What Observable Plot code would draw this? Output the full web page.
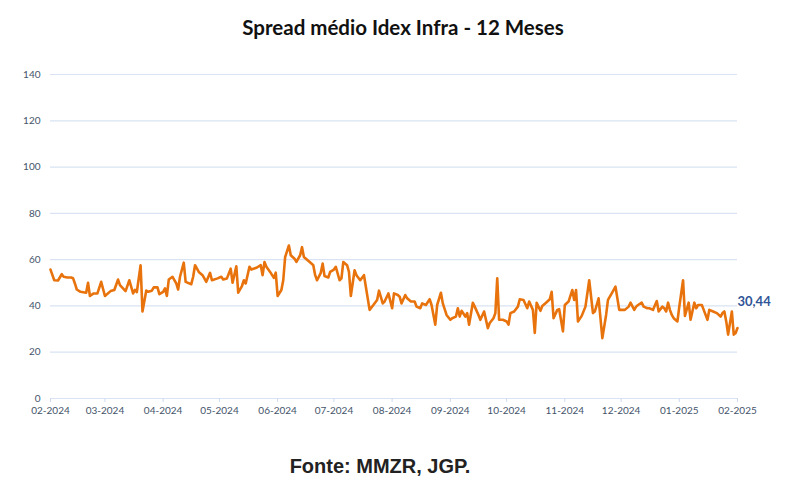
<!DOCTYPE html>
<html>
<head>
<meta charset="utf-8">
<script src="https://cdn.jsdelivr.net/npm/d3@7"></script>
<script src="https://cdn.jsdelivr.net/npm/@observablehq/plot@0.6"></script>
<style>
  html, body { margin: 0; padding: 0; background: #fff; }
  body { width: 788px; height: 495px; position: relative; overflow: hidden; }
  #title { position: absolute; left: 0; top: 0; width: 788px; height: 54px; display: flex; align-items: center; justify-content: center;
           font-family: Lato, "Open Sans", sans-serif; font-weight: bold; font-size: 20.5px; color: #111; padding-left: 18px; box-sizing: border-box; }
  #chart { position: absolute; left: 0; top: 54px; }
  #caption { position: absolute; left: 0; top: 448px; width: 788px; text-align: center; padding-right: 28px; box-sizing: border-box;
             font-family: "Liberation Sans", Arial, sans-serif; font-weight: bold; font-size: 20px; color: #222; line-height: 36px; }
</style>
</head>
<body>
<div id="title">Spread médio Idex Infra - 12 Meses</div>
<div id="chart"></div>
<div id="caption">Fonte: MMZR, JGP.</div>
<script>
// Days since 2024-02-01 (x positions)
const days = [
  0,2,4,6,7,9,11,12,13,14,16,19,20,21,23,25,27,
  29,32,34,36,37,40,42,44,45,46,48,49,51,52,54,55,57,58,
  60,61,62,63,65,67,68,69,71,72,75,76,77,79,81,83,85,86,
  89,91,92,94,96,97,99,100,102,103,104,106,107,110,112,113,114,115,117,119,
  120,121,123,124,125,127,128,130,131,133,134,135,137,139,140,141,142,144,145,146,148,149,
  151,152,154,155,156,158,159,160,162,163,165,167,168,170,172,174,175,177,178,180,
  182,183,185,186,187,189,190,192,194,195,197,198,200,202,203,205,206,208,209,211,
  213,214,216,217,218,219,221,222,223,225,226,228,229,231,233,234,236,237,238,239,241,
  243,244,245,247,249,250,252,254,255,257,258,259,261,262,264,266,267,268,270,271,
  273,274,276,278,279,280,281,283,285,287,289,290,292,294,296,297,299,301,303,
  305,306,308,309,311,312,313,315,316,318,319,321,323,324,326,327,328,329,330,331,332,334,
  335,337,338,340,341,343,344,345,347,348,350,351,353,355,357,358,359,360,361,363,364,365,366
];
// Spread values (bps)
const spread = [
  55.7,51.1,51.0,53.7,52.6,52.3,52.3,52.0,49.7,47.1,46.1,45.7,50.0,44.3,45.4,45.4,50.4,
  44.3,46.4,46.9,51.4,49.0,46.4,51.1,45.4,46.9,46.0,57.6,37.6,46.6,46.1,46.6,48.0,48.0,45.1,
  46.1,47.6,44.3,51.4,52.6,49.7,47.1,52.6,58.7,50.4,49.4,52.6,57.6,54.7,53.3,50.4,54.3,51.1,
  51.9,52.6,51.4,51.9,56.1,50.0,57.1,45.7,48.6,51.1,49.7,56.9,55.7,56.6,57.6,53.3,59.0,56.9,54.7,52.1,
  54.4,44.3,46.9,51.1,61.1,66.1,61.9,60.4,59.0,61.9,65.4,61.1,59.7,58.3,57.6,53.3,51.1,54.3,58.3,52.9,52.3,54.7,
  55.7,56.9,51.1,51.9,59.0,57.6,54.7,44.3,55.4,53.3,51.1,53.3,48.3,38.3,40.4,42.6,46.6,41.1,41.9,45.4,
  39.0,45.4,44.7,44.0,41.1,44.7,43.3,41.9,41.9,39.7,39.0,41.1,40.4,42.9,40.4,31.9,40.4,45.7,41.1,36.1,
  34.0,34.7,35.4,39.0,35.4,37.9,35.4,36.9,31.9,41.4,39.7,36.1,34.0,37.6,30.4,32.6,34.7,36.9,51.9,34.0,34.0,
  33.3,31.9,36.9,37.6,39.7,42.9,42.6,39.0,41.9,38.3,28.3,41.4,37.9,40.0,41.4,42.9,46.1,34.7,38.3,38.6,
  29.0,40.4,41.9,46.9,42.6,46.9,33.3,35.7,39.7,51.1,36.9,37.6,43.3,26.1,36.1,42.6,45.4,48.3,38.3,
  38.3,38.3,39.7,41.4,38.3,39.7,40.4,41.4,39.7,39.0,39.0,38.3,42.1,37.6,39.7,39.0,37.6,41.4,38.3,36.1,34.7,33.3,
  39.7,51.1,35.7,41.4,34.0,41.4,39.0,40.4,40.4,38.3,34.0,38.3,37.6,36.9,35.4,36.9,37.6,33.3,27.6,37.6,27.6,28.3,30.44
];
const monthTicks = ["2024-02-01","2024-03-01","2024-04-01","2024-05-01","2024-06-01","2024-07-01",
  "2024-08-01","2024-09-01","2024-10-01","2024-11-01","2024-12-01","2025-01-01","2025-02-01"];
const yTicks = [0,20,40,60,80,100,120,140];
const lastLabel = "30,44";

const start = new Date(Date.UTC(2024, 1, 1));
const data = days.map((d, i) => ({date: d3.utcDay.offset(start, d), value: spread[i]}));
const tickDates = monthTicks.map(s => new Date(s + "T00:00:00Z"));
const last = data[data.length - 1];

const chart = Plot.plot({
  width: 788,
  height: 376,
  marginLeft: 50,
  marginRight: 51,
  marginTop: 20,
  marginBottom: 32,
  style: {fontFamily: "Lato, 'Open Sans', sans-serif", fontSize: "10px", color: "#44546a", background: "white", overflow: "visible"},
  x: {type: "utc", domain: [tickDates[0], tickDates[tickDates.length - 1]]},
  y: {domain: [0, 140]},
  marks: [
    Plot.ruleY(yTicks, {stroke: "#d9e3f3", strokeWidth: 1.2}),
    Plot.axisY({ticks: yTicks, tickSize: 0, tickPadding: 10, label: null, fill: "#44546a"}),
    Plot.axisX({ticks: tickDates, tickFormat: d3.utcFormat("%m-%Y"), tickSize: 4, tickPadding: 4, stroke: "#cfdaee", label: null, fill: "#44546a"}),
    Plot.line(data, {x: "date", y: "value", stroke: "#e8730d", strokeWidth: 2.6, strokeLinejoin: "round"}),
    Plot.text([last], {x: "date", y: "value", text: () => lastLabel, dy: -26, dx: 0, textAnchor: "start",
      fontWeight: "bold", fontSize: 13, fill: "#2f5597"})
  ]
});
document.getElementById("chart").appendChild(chart);
</script>
</body>
</html>
